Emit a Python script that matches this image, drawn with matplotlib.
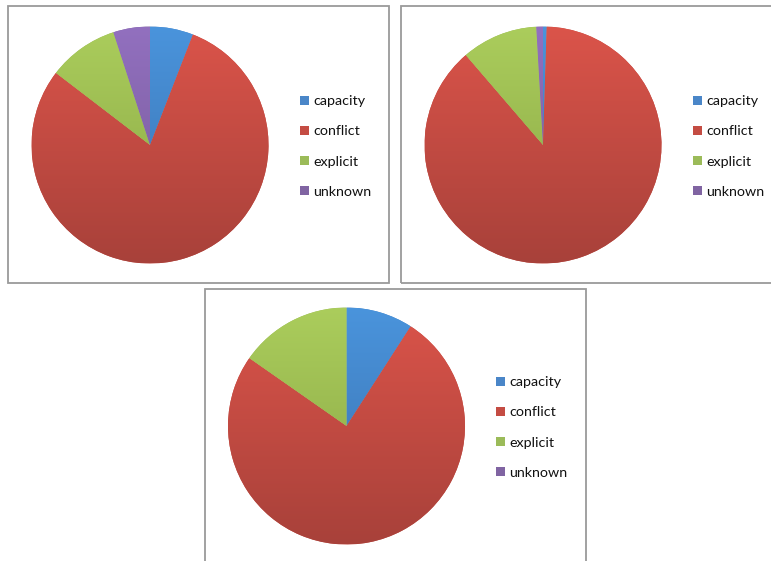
import numpy as np
import matplotlib
matplotlib.use("Agg")
import matplotlib.pyplot as plt
from matplotlib.colors import LinearSegmentedColormap
from matplotlib.patches import Rectangle

plt.rcParams['font.family'] = ['Lato', 'DejaVu Sans']

categories = ["capacity", "conflict", "explicit", "unknown"]
shares_a = [5.9, 79.5, 9.6, 5.0]
shares_b = [0.5, 88.2, 10.4, 0.9]
shares_c = [9.1, 75.6, 15.3, 0.0]

# light (top) and dark (bottom) tone of each slice colour
tones = {
    "capacity": ("#4a94dc", "#3a70ad"),
    "conflict": ("#db544a", "#a8413a"),
    "explicit": ("#abcd5c", "#88a544"),
    "unknown":  ("#9270bf", "#755896"),
}
base = ["#4a86c8", "#c44c43", "#9bbb59", "#8064a2"]

W, H = 771, 561
fig = plt.figure(figsize=(W / 100, H / 100), dpi=100)
fig.patch.set_facecolor("white")


def px_rect(x0, y0, w, h):
    return [x0 / W, 1 - (y0 + h) / H, w / W, h / H]


def draw_panel(box, center, radius, legend_xy, shares):
    bx, by, bw, bh = box
    fig.patches.append(Rectangle((bx / W, 1 - (by + bh) / H), bw / W, bh / H,
                                 transform=fig.transFigure, fill=False,
                                 edgecolor="#9a9a9a", lw=1.3, zorder=0))
    cx, cy = center
    ax = fig.add_axes(px_rect(cx - radius, cy - radius, 2 * radius, 2 * radius))
    wedges, _ = ax.pie(shares, colors=base, startangle=90, counterclock=False,
                       radius=1.0, wedgeprops=dict(linewidth=0))
    grad = np.linspace(1, 0, 256).reshape(-1, 1)
    for name, w in zip(categories, wedges):
        lo, hi = tones[name][1], tones[name][0]
        cmap = LinearSegmentedColormap.from_list(name, [lo, hi])
        im = ax.imshow(grad, extent=(-1, 1, -1, 1), cmap=cmap, origin="upper",
                       aspect="auto", zorder=2, interpolation="bilinear",
                       vmin=0, vmax=1)
        im.set_clip_path(w)
    ax.set_xlim(-1, 1)
    ax.set_ylim(-1, 1)
    ax.set_aspect("equal")
    ax.axis("off")

    lx, ly = legend_xy
    fig.legend(wedges, categories, loc="center left",
               bbox_to_anchor=(lx / W, 1 - ly / H), frameon=False,
               fontsize=10.3, handlelength=0.68, handleheight=0.68,
               handletextpad=0.3, labelspacing=1.26, borderpad=0,
               borderaxespad=0, labelcolor="#111111")


draw_panel((7.5, 6.5, 381, 276), (150, 145), 118.5, (299.5, 146.5), shares_a)
draw_panel((401, 6.5, 400, 276), (543, 145), 118.5, (692.5, 146.5), shares_b)
draw_panel((204.5, 288.5, 381, 300), (346.5, 426), 118.5, (495.5, 427.5), shares_c)

fig.savefig("out.png", dpi=100)
